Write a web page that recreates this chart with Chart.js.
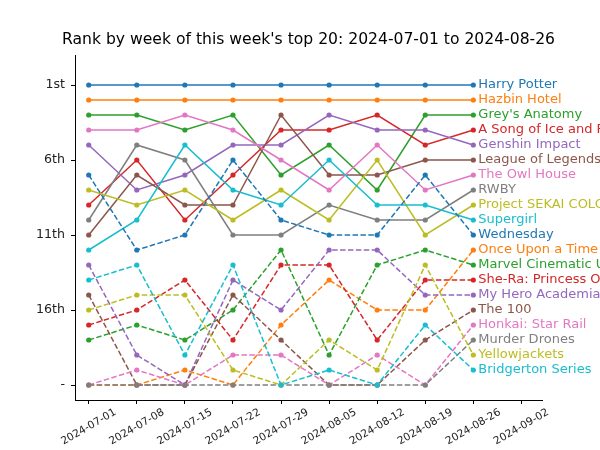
<!DOCTYPE html>
<html>
<head>
<meta charset="utf-8">
<script src="https://cdn.jsdelivr.net/npm/chart.js@4.4.1/dist/chart.umd.min.js"></script>
<style>
  html, body { margin: 0; padding: 0; background: #fff; }
  #wrap { width: 600px; height: 450px; position: relative; }
</style>
</head>
<body>
<div id="wrap"><canvas id="rankChart"></canvas></div>
<script>
// Semanas (eixo x) e rótulos dos ticks
const weeks = ['2024-07-01', '2024-07-08', '2024-07-15', '2024-07-22', '2024-07-29', '2024-08-05', '2024-08-12', '2024-08-19', '2024-08-26'];
const xTickLabels = ['2024-07-01', '2024-07-08', '2024-07-15', '2024-07-22', '2024-07-29', '2024-08-05', '2024-08-12', '2024-08-19', '2024-08-26', '2024-09-02'];
const yTickValues = [1, 6, 11, 16, 21];
const yTickLabels = ['1st', '6th', '11th', '16th', '-'];

const names = ['Harry Potter', 'Hazbin Hotel', "Grey's Anatomy", 'A Song of Ice and Fire', 'Genshin Impact',
  'League of Legends', 'The Owl House', 'RWBY', 'Project SEKAI COLORFUL STAGE', 'Supergirl',
  'Wednesday', 'Once Upon a Time', 'Marvel Cinematic Universe', 'She-Ra: Princess Of Power', 'My Hero Academia',
  'The 100', 'Honkai: Star Rail', 'Murder Drones', 'Yellowjackets', 'Bridgerton Series'];

// rank 21 = fora do top 20 ("-")
const harryPotter     = [1, 1, 1, 1, 1, 1, 1, 1, 1];
const hazbinHotel     = [2, 2, 2, 2, 2, 2, 2, 2, 2];
const greysAnatomy    = [3, 3, 4, 3, 7, 5, 8, 3, 3];
const songOfIce       = [9, 6, 10, 7, 4, 4, 3, 5, 4];
const genshinImpact   = [5, 8, 7, 5, 5, 3, 4, 4, 5];
const leagueOfLegends = [11, 7, 9, 9, 3, 7, 7, 6, 6];
const theOwlHouse     = [4, 4, 3, 4, 6, 8, 5, 8, 7];
const rwby            = [10, 5, 6, 11, 11, 9, 10, 10, 8];
const projectSekai    = [8, 9, 8, 10, 8, 10, 6, 11, 9];
const supergirl       = [12, 10, 5, 8, 9, 6, 9, 9, 10];
const wednesday       = [7, 12, 11, 6, 10, 11, 11, 7, 11];
const onceUponATime   = [21, 21, 20, 21, 17, 14, 16, 16, 12];
const marvelCU        = [18, 17, 18, 16, 12, 19, 13, 12, 13];
const sheRa           = [17, 16, 14, 18, 13, 13, 18, 14, 14];
const myHeroAcademia  = [13, 19, 21, 14, 16, 12, 12, 15, 15];
const the100          = [15, 21, 21, 15, 18, 21, 21, 18, 16];
const honkaiStarRail  = [21, 20, 21, 19, 19, 21, 19, 21, 17];
const murderDrones    = [21, 21, 21, 21, 21, 21, 21, 21, 18];
const yellowjackets   = [16, 15, 15, 20, 21, 18, 20, 13, 19];
const bridgerton      = [14, 13, 19, 13, 21, 20, 21, 17, 20];

const series = [harryPotter, hazbinHotel, greysAnatomy, songOfIce, genshinImpact, leagueOfLegends, theOwlHouse,
  rwby, projectSekai, supergirl, wednesday, onceUponATime, marvelCU, sheRa, myHeroAcademia, the100,
  honkaiStarRail, murderDrones, yellowjackets, bridgerton];

const tab10 = ['#1f77b4', '#ff7f0e', '#2ca02c', '#d62728', '#9467bd', '#8c564b', '#e377c2', '#7f7f7f', '#bcbd22', '#17becf'];
const FONT = "'DejaVu Sans', sans-serif";

Chart.defaults.font.family = FONT;

const datasets = series.map((vals, i) => ({
  label: names[i],
  data: vals.map((v, j) => ({ x: j, y: v })),
  borderColor: tab10[i % 10],
  backgroundColor: tab10[i % 10],
  pointBackgroundColor: tab10[i % 10],
  borderWidth: 1.5,
  borderDash: i >= 10 ? [5.5, 2.4] : [],
  pointRadius: 2.6,
  pointBorderWidth: 0,
  pointHoverRadius: 2.6,
  tension: 0,
  fill: false,
  order: series.length - i
}));

// título, rótulos x girados e nomes à direita
const extrasPlugin = {
  id: 'extras',
  afterDraw(chart) {
    const { ctx, chartArea, scales: { x, y } } = chart;
    ctx.save();
    ctx.fillStyle = '#000';
    ctx.font = `15.6px ${FONT}`;
    ctx.textAlign = 'center';
    ctx.textBaseline = 'middle';
    ctx.fillText('Rank by week of this week\'s top 20: ' + weeks[0] + ' to ' + weeks[weeks.length - 1], (chartArea.left + chartArea.right) / 2, 40);

    ctx.font = `10.6px ${FONT}`;
    xTickLabels.forEach((lbl, i) => {
      ctx.save();
      ctx.translate(x.getPixelForValue(i), chartArea.bottom + 27);
      ctx.rotate(-Math.PI / 6);
      ctx.fillStyle = '#222';
      ctx.fillText(lbl, 0, 0);
      ctx.restore();
    });

    ctx.font = `13px ${FONT}`;
    ctx.textAlign = 'left';
    const last = weeks.length - 1;
    names.forEach((n, i) => {
      ctx.fillStyle = tab10[i % 10];
      ctx.fillText(n, x.getPixelForValue(last) + 5, y.getPixelForValue(i + 1));
    });
    ctx.restore();
  }
};

new Chart('rankChart', {
  type: 'line',
  data: { datasets },
  options: {
    responsive: true,
    maintainAspectRatio: false,
    animation: false,
    layout: { padding: { top: 55, right: 58, left: 0, bottom: 0 } },
    plugins: { legend: { display: false }, tooltip: { enabled: false }, title: { display: false } },
    scales: {
      x: {
        type: 'linear',
        min: -2 / 7,
        max: 9 + 3 / 7,
        afterBuildTicks: (s) => { s.ticks = xTickLabels.map((_, i) => ({ value: i })); },
        afterFit: (s) => { s.height = 50; },
        ticks: { display: false },
        grid: { display: true, drawOnChartArea: false, drawTicks: true, tickLength: 4, color: '#000' },
        border: { display: true, color: '#000', width: 1 }
      },
      y: {
        type: 'linear',
        reverse: true,
        min: -1,
        max: 22,
        afterBuildTicks: (s) => { s.ticks = yTickValues.map(v => ({ value: v })); },
        afterFit: (s) => { s.width = 75; },
        ticks: {
          color: '#222',
          padding: 6,
          font: { size: 12.6 },
          callback: (v) => yTickLabels[yTickValues.indexOf(v)]
        },
        grid: { display: true, drawOnChartArea: false, drawTicks: true, tickLength: 4, color: '#000' },
        border: { display: true, color: '#000', width: 1 }
      }
    }
  },
  plugins: [extrasPlugin]
});
</script>
</body>
</html>
